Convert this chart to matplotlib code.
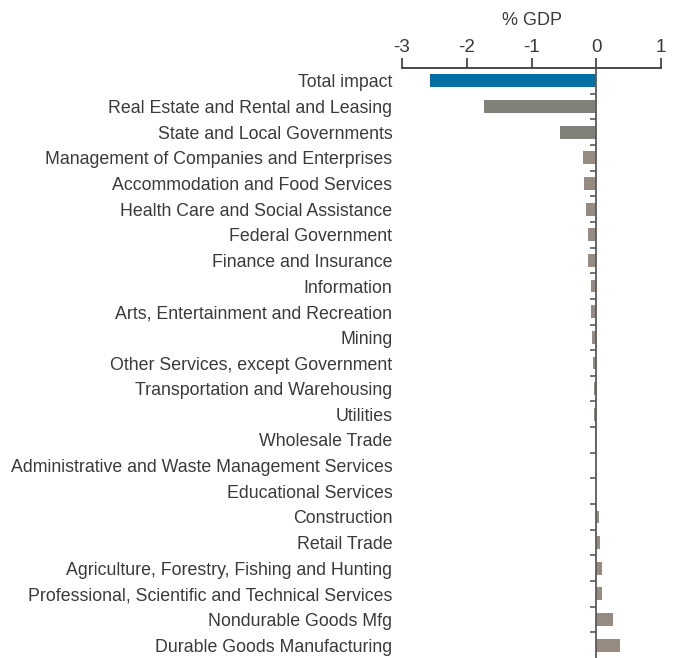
import numpy as np
import matplotlib.pyplot as plt

categories = [
    "Total impact",
    "Real Estate and Rental and Leasing",
    "State and Local Governments",
    "Management of Companies and Enterprises",
    "Accommodation and Food Services",
    "Health Care and Social Assistance",
    "Federal Government",
    "Finance and Insurance",
    "Information",
    "Arts, Entertainment and Recreation",
    "Mining",
    "Other Services, except Government",
    "Transportation and Warehousing",
    "Utilities",
    "Wholesale Trade",
    "Administrative and Waste Management Services",
    "Educational Services",
    "Construction",
    "Retail Trade",
    "Agriculture, Forestry, Fishing and Hunting",
    "Professional, Scientific and Technical Services",
    "Nondurable Goods Mfg",
    "Durable Goods Manufacturing",
]
values = [-2.56, -1.74, -0.56, -0.20, -0.19, -0.16, -0.13, -0.12, -0.08,
          -0.075, -0.07, -0.05, -0.035, -0.03, -0.02, -0.005, -0.003,
          0.04, 0.06, 0.085, 0.095, 0.26, 0.36]
xticks = [-3, -2, -1, 0, 1]

plt.rcParams['font.family'] = ['Liberation Sans', 'DejaVu Sans']
txt = "#3a3a3a"

colors = ["#006fa3"] + ["#80827a"] * 2 + ["#958b80"] * (len(values) - 3)
y = np.arange(len(categories))

fig = plt.figure(figsize=(6.77, 6.58), dpi=100)
ax = fig.add_axes([402 / 677, 0, 259 / 677, 590 / 658])

ax.barh(y, values, height=0.5, color=colors, zorder=2)
ax.set_ylim(len(categories) - 0.5, -0.5)
ax.set_xlim(-3, 1)

# zero line with small separators between categories
ax.axvline(0, color="#5a5a5a", lw=1.3, zorder=3)
ax.hlines(y[1:] - 0.5, -0.09, 0, color="#5a5a5a", lw=1.2, zorder=3)

ax.set_yticks(y)
ax.set_yticklabels(categories, fontsize=12.75, color=txt)
ax.tick_params(axis="y", length=0, pad=7)

ax.xaxis.tick_top()
ax.xaxis.set_label_position("top")
ax.set_xticks(xticks)
ax.set_xticklabels([str(t) for t in xticks], fontsize=13.5, color=txt)
ax.tick_params(axis="x", length=7, width=1.2, color="#3a3a3a", pad=2)
ax.set_xlabel("% GDP", fontsize=13, color=txt, labelpad=10)

for s in ["left", "right", "bottom"]:
    ax.spines[s].set_visible(False)
ax.spines["top"].set_color("#3a3a3a")
ax.spines["top"].set_linewidth(1.3)

fig.savefig("out.png", dpi=100)
